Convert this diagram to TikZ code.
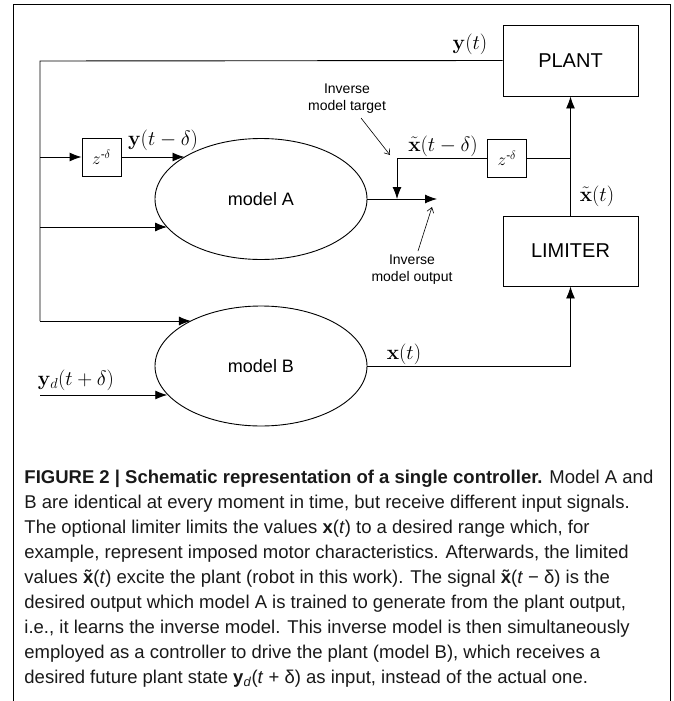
\documentclass[tikz,border=0pt]{standalone}
\usepackage[no-math]{fontspec}
\setmainfont{Liberation Sans}
\usepackage{amsmath}
\usepackage{graphicx}
\usetikzlibrary{arrows.meta,shapes.geometric}
\newcommand{\capx}{1.0}
\newcommand{\capline}[1]{\scalebox{\capx}[1]{#1}}
\begin{document}
\begin{tikzpicture}[x=1pt,y=-1pt,
  line width=0.9pt,
  arr/.style={-{Latex[length=12pt,width=9pt]}},
  note/.style={-{Straight Barb[length=5pt,width=7pt]}, line width=0.6pt},
  blk/.style={draw, rectangle, minimum width=135pt, minimum height=71pt, inner sep=0pt, font=\fontsize{20}{24}\selectfont},
  zbox/.style={draw, rectangle, minimum width=39pt, minimum height=38pt, inner sep=0pt, font=\fontsize{17}{20}\selectfont},
  model/.style={draw, ellipse, minimum width=212pt, minimum height=121pt, inner sep=0pt, font=\fontsize{18}{22}\selectfont},
  lbl/.style={inner sep=0pt, font=\fontsize{20}{24}\selectfont},
  small/.style={inner sep=0pt, align=center, font=\fontsize{14}{17}\selectfont},
  capstyle/.style={anchor=base west, inner sep=0pt, font=\fontsize{18.5}{22}\selectfont, text=black!90}
]
\useasboundingbox (0,0) rectangle (673,701);
% frame
\draw[line width=1pt] (13,701) -- (13,5) -- (670,5) -- (670,701);

% blocks
\node[blk] (plant) at (570.5,60.5) {PLANT};
\node[blk, minimum height=70pt] (limiter) at (570.5,251) {LIMITER};
\node[zbox] (zA) at (101.5,157) {$z^{\text{-}\delta}$};
\node[zbox] (zB) at (507,158) {$z^{\text{-}\delta}$};
\node[model] (modelA) at (261,199) {model A};
\node[model, minimum height=120pt] (modelB) at (261,366) {model B};

% coordinates
\coordinate (fbTop) at (40,61);
\coordinate (fbBot) at (40,321);
\coordinate (inA1) at (40,157);
\coordinate (inA2) at (40,227);
\coordinate (ydS) at (40,395);
\coordinate (outA) at (437,199);
\coordinate (tgt) at (397,199);
\coordinate (jn) at (570.5,158);

% feedback from plant
\draw (plant.west) -- (fbTop) -- (fbBot);
\draw[arr] (fbBot) -- (fbBot -| modelB.147);
\draw[arr] (inA1) -- (zA.west);
\draw[arr] (zA.east) -- (zA.east -| modelA.151);
\draw[arr] (inA2) -- (inA2 -| modelA.197);
\draw[arr] (ydS) -- (ydS -| modelB.197);

% model A output and target
\draw[arr] (modelA.east) -- (outA);
\draw (zB.east) -- (jn);
\draw[arr] (zB.west) -| (tgt);

% limiter / plant
\draw[arr] (limiter.north) -- (plant.south);
\draw[arr] (modelB.east) -| (limiter.south);

% labels
\node[lbl] (ly) at (470,44) {$\mathbf{y}(t)$};
\node[lbl] (lyd) at (163,140) {$\mathbf{y}(t-\delta)$};
\node[lbl] (lxtd) at (443,146) {$\tilde{\mathbf{x}}(t-\delta)$};
\node[lbl] (lxt) at (597,196) {$\tilde{\mathbf{x}}(t)$};
\node[lbl] (lx) at (404,354) {$\mathbf{x}(t)$};
\node[lbl] (lydd) at (76,380) {$\mathbf{y}_d(t+\delta)$};

% annotations
\node[small] (ntgt) at (347,99) {Inverse\\model target};
\coordinate (ntgtS) at (361,118);
\coordinate (ntgtE) at (390,155);
\draw[note] (ntgtS) -- (ntgtE);
\node[small] (nout) at (412,270) {Inverse\\model output};
\coordinate (noutS) at (418,251);
\coordinate (noutE) at (432,207);
\draw[note] (noutS) -- (noutE);

% caption
\node[capstyle] (c1) at (24,483) {\capline{{\bfseries FIGURE 2 | Schematic representation of a single controller.} Model A and}};
\node[capstyle] (c2) at (24,508) {\capline{B are identical at every moment in time, but receive different input signals.}};
\node[capstyle] (c3) at (24,533) {\capline{The optional limiter limits the values {\bfseries x}(\textit{t}) to a desired range which, for}};
\node[capstyle] (c4) at (24,558) {\capline{example, represent imposed motor characteristics. Afterwards, the limited}};
\node[capstyle] (c5) at (24,583) {\capline{values {\bfseries\~x}(\textit{t}) excite the plant (robot in this work). The signal {\bfseries\~x}(\textit{t} − δ) is the}};
\node[capstyle] (c6) at (24,608) {\capline{desired output which model A is trained to generate from the plant output,}};
\node[capstyle] (c7) at (24,633) {\capline{i.e., it learns the inverse model. This inverse model is then simultaneously}};
\node[capstyle] (c8) at (24,658) {\capline{employed as a controller to drive the plant (model B), which receives a}};
\node[capstyle] (c9) at (24,683) {\capline{desired future plant state {\bfseries y}\textsubscript{\textit{d}}(\textit{t} + δ) as input, instead of the actual one.}};
\end{tikzpicture}
\end{document}
